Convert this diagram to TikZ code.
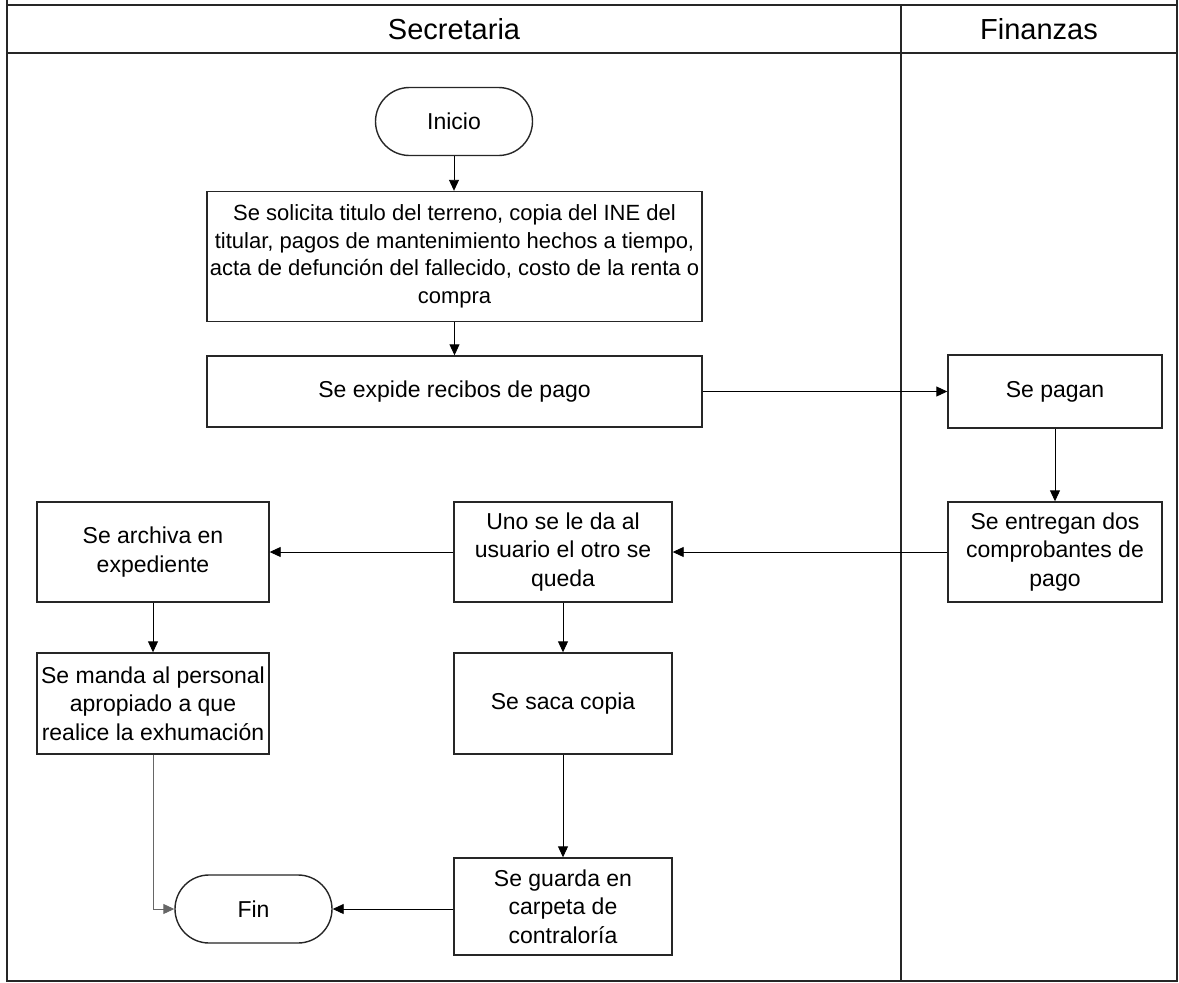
\documentclass[tikz,border=0pt]{standalone}
\usepackage{fontspec}
\setmainfont{Liberation Sans}
\usetikzlibrary{arrows.meta}
\begin{document}
\begin{tikzpicture}[x=1pt,y=-1pt,
  lane/.style={draw=black!85, line width=1.6pt},
  proc/.style={draw=black!85, line width=1.4pt, fill=white, align=center,
    inner sep=0pt, font={\fontsize{23}{28.5}\selectfont}},
  wide/.style={font={\fontsize{22}{27.5}\selectfont}},
  term/.style={proc, rounded corners=34pt, minimum width=157pt, minimum height=68pt},
  flow/.style={-{Triangle[length=11pt,width=10pt]}, line width=0.9pt, draw=black},
  head/.style={font={\fontsize{29}{33}\selectfont}}]
\useasboundingbox (0,0) rectangle (1179,983);

% swimlane frame
\draw[lane] (7,0) -- (7,981) -- (1177,981) -- (1177,0);
\draw[lane] (7,5) -- (1177,5);
\draw[lane] (7,53) -- (1177,53);
\draw[lane] (901,5) -- (901,981);
\node[head] (hsec) at (454,29) {Secretaria};
\node[head] (hfin) at (1039,29) {Finanzas};

% steps
\node[term] (inicio) at (454,121.5) {Inicio};
\node[proc, wide, minimum width=495pt, minimum height=130pt] (sol) at (454.5,256.5)
  {Se solicita titulo del terreno, copia del INE del\\
   titular, pagos de mantenimiento hechos a tiempo,\\
   acta de defunción del fallecido, costo de la renta o\\
   compra};
\node[proc, minimum width=495pt, minimum height=71pt] (exp) at (454.5,391.5)
  {Se expide recibos de pago};
\node[proc, minimum width=214pt, minimum height=73pt] (pag) at (1055,391.5)
  {Se pagan};
\node[proc, minimum width=214pt, minimum height=100pt] (ent) at (1055,552)
  {Se entregan dos\\comprobantes de\\pago};
\node[proc, minimum width=218pt, minimum height=100pt] (uno) at (563,552)
  {Uno se le da al\\usuario el otro se\\queda};
\node[proc, minimum width=232pt, minimum height=100pt] (arch) at (153,552)
  {Se archiva en\\expediente};
\node[proc, minimum width=232pt, minimum height=101pt] (manda) at (153,703.5)
  {Se manda al personal\\apropiado a que\\realice la exhumación};
\node[proc, minimum width=218pt, minimum height=101pt] (saca) at (563,703.5)
  {Se saca copia};
\node[proc, minimum width=218pt, minimum height=97pt] (guarda) at (563,906.5)
  {Se guarda en\\carpeta de\\contraloría};
\node[term] (fin) at (253.5,909) {Fin};

% connectors
\draw[flow] (inicio) -- (inicio |- sol.north);
\draw[flow] (sol) -- (exp);
\draw[flow] (exp) -- (pag);
\draw[flow] (pag) -- (ent);
\draw[flow] (ent) -- (uno);
\draw[flow] (uno) -- (arch);
\draw[flow] (arch) -- (manda);
\draw[flow] (uno) -- (saca);
\draw[flow] (saca) -- (guarda);
\draw[flow, draw=black!60] (manda.south) |- (fin.west);
\draw[flow] (guarda.west |- fin) -- (fin.east);
\end{tikzpicture}
\end{document}
